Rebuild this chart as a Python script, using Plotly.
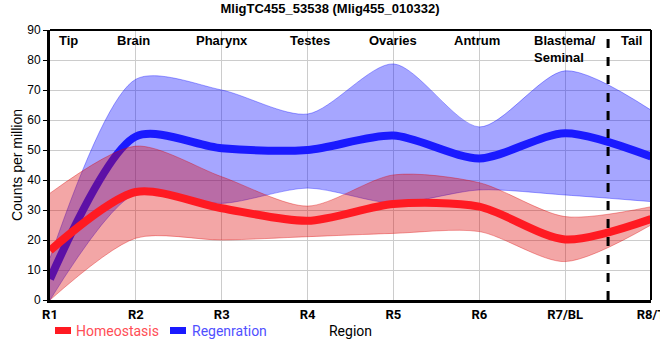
import plotly.graph_objects as go

regions = ["R1", "R2", "R3", "R4", "R5", "R6", "R7/BL", "R8/T"]
xpos = [0, 1, 2, 3, 4, 5, 6, 7]

homeo_mean = [16.5, 36.0, 30.6, 26.4, 32.0, 31.1, 20.2, 27.0]
homeo_upper = [35.6, 51.3, 41.1, 31.3, 41.7, 39.1, 27.8, 31.1]
homeo_lower = [0.0, 20.6, 20.0, 21.1, 22.2, 22.8, 12.8, 25.0]

regen_mean = [7.0, 54.5, 50.6, 50.0, 54.8, 47.2, 55.6, 47.8]
regen_upper = [14.0, 73.6, 70.0, 62.0, 78.7, 57.7, 76.4, 63.3]
regen_lower = [0.0, 35.6, 32.2, 37.3, 32.3, 36.7, 35.0, 32.8]

section_labels = ["Tip", "Brain", "Pharynx", "Testes", "Ovaries", "Antrum", "Blastema/<br>Seminal", "Tail"]
section_x = [0.22, 0.97, 2.0, 3.03, 4.0, 4.97, 6.0, 6.77]
boundary_x = 6.5

series_names = ["Homeostasis", "Regenration"]
series_colors = ["#ff1a22", "#1a1aff"]
legend_text_colors = ["#ff4d55", "#5050ff"]

SM = 0.8
fig = go.Figure()

def band(lower, upper, fillc, edgec):
    fig.add_trace(go.Scatter(x=xpos, y=lower, mode="lines", line=dict(color=edgec, width=1, shape="spline", smoothing=SM),
                             showlegend=False, hoverinfo="skip"))
    fig.add_trace(go.Scatter(x=xpos, y=upper, mode="lines", line=dict(color=edgec, width=1, shape="spline", smoothing=SM),
                             fill="tonexty", fillcolor=fillc, showlegend=False, hoverinfo="skip"))

band(regen_lower, regen_upper, "rgba(0,0,255,0.35)", "rgba(0,0,255,0.35)")
fig.add_trace(go.Scatter(x=xpos, y=regen_mean, mode="lines", name=series_names[1],
                         line=dict(color=series_colors[1], width=8, shape="spline", smoothing=SM)))
band(homeo_lower, homeo_upper, "rgba(220,0,0,0.35)", "rgba(220,0,0,0.35)")
fig.add_trace(go.Scatter(x=xpos, y=homeo_mean, mode="lines", name=series_names[0],
                         line=dict(color=series_colors[0], width=8, shape="spline", smoothing=SM)))

fig.add_shape(type="line", x0=boundary_x, x1=boundary_x, y0=0, y1=1, xref="x", yref="paper",
              line=dict(color="black", width=3, dash="dash"))

for lab, sx in zip(section_labels, section_x):
    fig.add_annotation(x=sx, y=1, xref="x", yref="paper", text="<b>" + lab + "</b>", showarrow=False,
                       yanchor="top", yshift=-1, align="left",
                       font=dict(family="Liberation Sans, Arial", size=13, color="black"))

# manual legend (swatch + coloured label)
legend_px = [(55, 74), (170, 190)]
W, H = 660, 360
L, R_, T, B = 50, 9, 30, 60
pw = W - L - R_
ph = H - T - B
for (sx, tx), nm, col, tcol in zip(legend_px, series_names, series_colors, legend_text_colors):
    x0 = (sx - L) / pw
    x1 = (sx + 16 - L) / pw
    yc = (H - B - 330.5) / ph
    fig.add_shape(type="rect", xref="paper", yref="paper", x0=x0, x1=x1,
                  y0=yc - 3.5 / ph, y1=yc + 3.5 / ph, fillcolor=col, line=dict(width=0))
    fig.add_annotation(xref="paper", yref="paper", x=(tx - L) / pw, y=yc, xanchor="left", yanchor="middle",
                       text=nm, showarrow=False, font=dict(family="Roboto", size=14, color=tcol))

fig.update_layout(
    width=W, height=H,
    margin=dict(l=L, r=R_, t=T, b=B),
    paper_bgcolor="white", plot_bgcolor="white",
    title=dict(text="<b>MligTC455_53538 (Mlig455_010332)</b>", x=0.5, xanchor="center", y=0.977, yanchor="middle",
               font=dict(family="Liberation Sans, Arial", size=13, color="black")),
    showlegend=False,
    font=dict(family="Liberation Sans, Arial", size=12, color="black"),
)
fig.update_xaxes(range=[0, 7], tickvals=xpos, ticktext=["<b>" + r + "</b>" for r in regions],
                 tickfont=dict(family="Roboto", size=13), automargin=False, ticklabeloverflow="allow",
                 showgrid=True, gridcolor="#cccccc", gridwidth=1, zeroline=False,
                 showline=True, linecolor="black", linewidth=3, ticks="",
                 title=dict(text="Region", standoff=6, font=dict(family="Roboto", size=14)))
fig.update_yaxes(range=[0, 90], dtick=10, showgrid=True, gridcolor="#cccccc", gridwidth=1, zeroline=False,
                 automargin=False,
                 showline=True, linecolor="black", linewidth=3, ticks="outside", ticklen=4, tickcolor="black",
                 tickfont=dict(family="Liberation Sans, Arial", size=12),
                 title=dict(text="Counts per million", standoff=2, font=dict(family="Liberation Sans, Arial", size=14)))
fig.add_shape(type="line", x0=0, x1=1, y0=1, y1=1, xref="paper", yref="paper", line=dict(color="black", width=2))
fig.add_shape(type="line", x0=1, x1=1, y0=0, y1=1, xref="paper", yref="paper", line=dict(color="black", width=2))

fig.write_html("out.html", config={"displayModeBar": False},
               post_script="document.body.style.margin='0px';document.body.style.overflow='hidden';")
